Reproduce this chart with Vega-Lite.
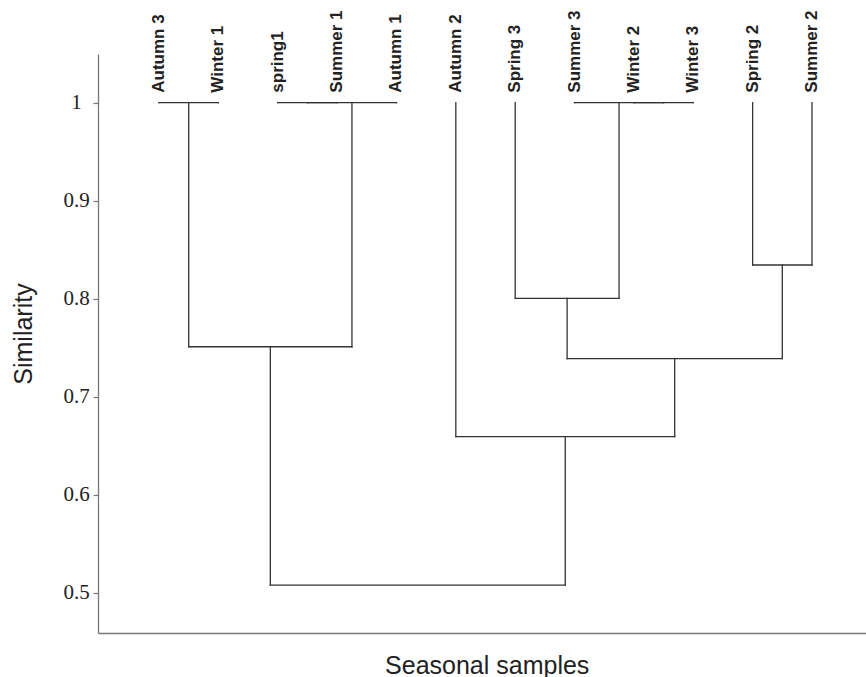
{
  "$schema": "https://vega.github.io/schema/vega-lite/v6.json",
  "width": 768,
  "height": 579,
  "autosize": {"type": "none"},
  "padding": {"left": 98, "top": 54, "right": 0, "bottom": 44},
  "background": "white",
  "config": {"view": {"stroke": null}},
  "datasets": {
    "leaves": [
      {"name": "Autumn 3", "pos": 0},
      {"name": "Winter 1", "pos": 1},
      {"name": "spring1", "pos": 2},
      {"name": "Summer 1", "pos": 3},
      {"name": "Autumn 1", "pos": 4},
      {"name": "Autumn 2", "pos": 5},
      {"name": "Spring 3", "pos": 6},
      {"name": "Summer 3", "pos": 7},
      {"name": "Winter 2", "pos": 8},
      {"name": "Winter 3", "pos": 9},
      {"name": "Spring 2", "pos": 10},
      {"name": "Summer 2", "pos": 11}
    ],
    "merges": [
      {"id": "A", "xl": 0, "xr": 1, "hl": 1, "hr": 1, "h": 1},
      {"id": "B", "xl": 2, "xr": 3, "hl": 1, "hr": 1, "h": 1},
      {"id": "C", "xl": 2.5, "xr": 4, "hl": 1, "hr": 1, "h": 1},
      {"id": "D", "xl": 0.5, "xr": 3.25, "hl": 1, "hr": 1, "h": 0.751},
      {"id": "E", "xl": 8, "xr": 9, "hl": 1, "hr": 1, "h": 1},
      {"id": "F", "xl": 7, "xr": 8.5, "hl": 1, "hr": 1, "h": 1},
      {"id": "G", "xl": 6, "xr": 7.75, "hl": 1, "hr": 1, "h": 0.8004},
      {"id": "H", "xl": 10, "xr": 11, "hl": 1, "hr": 1, "h": 0.8344},
      {"id": "I", "xl": 6.875, "xr": 10.5, "hl": 0.8004, "hr": 0.8344, "h": 0.7388},
      {"id": "J", "xl": 5, "xr": 8.6875, "hl": 1, "hr": 0.7388, "h": 0.6592},
      {"id": "K", "xl": 1.875, "xr": 6.84375, "hl": 0.751, "hr": 0.6592, "h": 0.5078}
    ]
  },
  "layer": [
    {
      "data": {"name": "merges"},
      "mark": {"type": "rule", "color": "#333333", "strokeWidth": 1.3, "strokeCap": "square"},
      "encoding": {
        "x": {
          "field": "xl", "type": "quantitative",
          "scale": {"domain": [-1.028, 11.91], "nice": false, "zero": false},
          "axis": {
            "title": "Seasonal samples",
            "titleFont": "Liberation Sans", "titleFontSize": 25, "titleFontWeight": "normal", "titleColor": "#222222",
            "titleX": 388.7, "titleY": 40, "titleAlign": "center", "titleBaseline": "alphabetic",
            "labels": false, "ticks": false, "grid": false,
            "domainColor": "#777777", "domainWidth": 1.3
          }
        },
        "x2": {"field": "xr"},
        "y": {
          "field": "h", "type": "quantitative",
          "scale": {"domain": [0.4589, 1.0497], "nice": false, "zero": false},
          "axis": {
            "title": "Similarity",
            "titleFont": "Liberation Sans", "titleFontSize": 25, "titleFontWeight": "normal", "titleColor": "#222222",
            "titleAngle": 270, "titleX": -67, "titleY": 279.5, "titleAlign": "center", "titleBaseline": "alphabetic",
            "values": [0.5, 0.6, 0.7, 0.8, 0.9, 1],
            "format": "~g",
            "labelFont": "Liberation Serif", "labelFontSize": 21, "labelColor": "#222222",
            "labelAlign": "center", "labelBaseline": "middle", "labelDy": 7, "labelPadding": 17,
            "tickSize": 5, "tickColor": "#777777", "tickWidth": 1.2,
            "grid": false, "domainColor": "#777777", "domainWidth": 1.3
          }
        }
      }
    },
    {
      "data": {"name": "merges"},
      "mark": {"type": "rule", "color": "#333333", "strokeWidth": 1.3, "strokeCap": "square"},
      "encoding": {
        "x": {"field": "xl", "type": "quantitative"},
        "y": {"field": "hl", "type": "quantitative"},
        "y2": {"field": "h"}
      }
    },
    {
      "data": {"name": "merges"},
      "mark": {"type": "rule", "color": "#333333", "strokeWidth": 1.3, "strokeCap": "square"},
      "encoding": {
        "x": {"field": "xr", "type": "quantitative"},
        "y": {"field": "hr", "type": "quantitative"},
        "y2": {"field": "h"}
      }
    },
    {
      "data": {"name": "leaves"},
      "mark": {"type": "text", "angle": 270, "align": "left", "baseline": "middle", "dx": 10, "font": "Liberation Sans", "fontWeight": "bold", "fontSize": 17, "color": "#222222"},
      "encoding": {
        "x": {"field": "pos", "type": "quantitative"},
        "y": {"datum": 1, "type": "quantitative"},
        "text": {"field": "name", "type": "nominal"}
      }
    }
  ]
}
